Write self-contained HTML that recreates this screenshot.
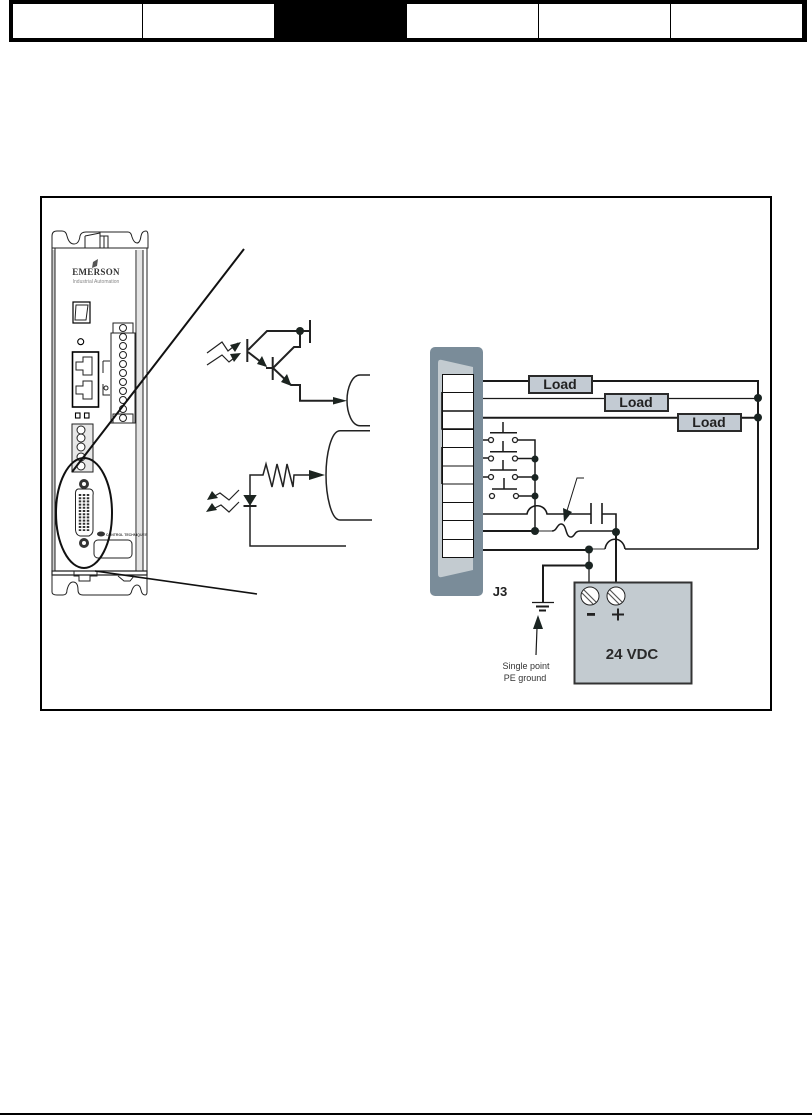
<!DOCTYPE html>
<html><head><meta charset="utf-8"><style>
html,body{margin:0;padding:0;background:#fff;width:812px;height:1115px;overflow:hidden}
svg{display:block}
text{font-family:"Liberation Sans",sans-serif}
</style></head><body>
<svg width="812" height="1115" viewBox="0 0 812 1115" xmlns="http://www.w3.org/2000/svg">
<rect width="812" height="1115" fill="#fff"/>
<!-- header -->
<rect x="9" y="0" width="798" height="42" fill="#000"/>
<rect x="13" y="4" width="129" height="34" fill="#fff"/>
<rect x="143" y="4" width="131" height="34" fill="#fff"/>
<rect x="407" y="4" width="131" height="34" fill="#fff"/>
<rect x="539" y="4" width="131" height="34" fill="#fff"/>
<rect x="671" y="4" width="131" height="34" fill="#fff"/>
<rect x="0" y="1113" width="812" height="2" fill="#000"/>
<!-- frame -->
<rect x="41" y="197" width="730" height="513" fill="#fff" stroke="#000" stroke-width="2"/>

<!-- device -->
<rect x="52" y="250" width="3" height="320" fill="#ccc"/>
<rect x="137" y="250" width="6" height="320" fill="#e4e4e4"/>
<g fill="none" stroke="#222" stroke-width="1">
<path d="M52 248V236Q52 231 57 231H62Q66 231 67 236Q69 244 74 244Q79 244 80 236Q81 232 86 232H128Q131 232 132 237Q134 243 137 243Q140 243 141 236Q142 231 146 231Q148 231 148 236V248Z"/>
<path d="M52 248V571M55 248V571M136 250V571M143 250V571M147 248V571"/>
<path d="M85 236L100 233V248M100 236H108V248M104 236V248M85 236V248"/>
<path d="M52 571H147V575H52Z" stroke-width="1.200"/>
<path d="M52 575V592Q52 595 57 595H63Q67 595 67 590Q69 582 73 582Q78 582 78 590Q78 595 83 595H128Q131 595 132 590Q134 585 137 585Q140 585 141 590Q142 595 145 595Q147 595 147 592V575"/>
<path d="M74 571H97V576H90V581H79V576H74Z" stroke="#222"/>
<path d="M118 576L124 581H130L134 576" stroke="#222"/>
<rect x="73" y="302" width="17" height="21" stroke="#000" stroke-width="1.200"/>
<path d="M76 305H88L86 320H75Z"/>
<circle cx="80.700" cy="341.700" r="3" stroke="#000" stroke-width="1.100"/>
<rect x="72.500" y="352" width="26" height="55" stroke="#000" stroke-width="1.600"/>
<path d="M76 362H83V357H92V375H83V370H76ZM76 386H83V381H92V399H83V394H76Z"/>
<rect x="111" y="333" width="24" height="90" fill="#fff"/>
<path d="M113 323H133V333H113ZM113 414H133V423H113Z" stroke="#222"/>
<path d="M103 361H110M103 361V373M103 384V395H110"/>
<circle cx="106" cy="388" r="2"/>
<g><circle cx="123" cy="328" r="3.500"/><circle cx="123" cy="337" r="3.500"/><circle cx="123" cy="346" r="3.500"/><circle cx="123" cy="355" r="3.500"/><circle cx="123" cy="364" r="3.500"/><circle cx="123" cy="373" r="3.500"/><circle cx="123" cy="382" r="3.500"/><circle cx="123" cy="391" r="3.500"/><circle cx="123" cy="400" r="3.500"/><circle cx="123" cy="409" r="3.500"/><circle cx="123" cy="418" r="3.500"/></g>
<rect x="75.500" y="413" width="4.500" height="5" stroke="#000" stroke-width="1.100"/>
<rect x="84.500" y="413" width="4.500" height="5" stroke="#000" stroke-width="1.100"/>
<rect x="72" y="424" width="21" height="48" fill="#e8e8e8" stroke="#222"/>
<circle cx="81" cy="430" r="4" fill="#fff"/><circle cx="81" cy="438" r="4" fill="#fff"/><circle cx="81" cy="447" r="4" fill="#fff"/><circle cx="81" cy="457" r="4" fill="#fff"/><circle cx="81" cy="466" r="4" fill="#fff"/>
<rect x="94" y="540" width="38" height="18" rx="4"/>
</g>
<text x="96" y="275" text-anchor="middle" font-size="9" font-weight="bold" fill="#333" style="font-family:'Liberation Serif',serif;letter-spacing:.3px">EMERSON</text>
<text x="96" y="283" text-anchor="middle" font-size="5" fill="#888">Industrial Automation</text>
<path d="M93 262L98 259L97 266L92 268Z" fill="#555"/>
<!-- d-sub -->
<path d="M78 489H90Q94 490 93 495V530Q93 534 89 536H80Q76 535 75.500 530V495Q75 490 78 489Z" fill="#fff" stroke="#222" stroke-width="1"/>
<g fill="#333"><circle cx="84" cy="484" r="5"/><circle cx="84" cy="543" r="5"/></g>
<g fill="#fff"><circle cx="84" cy="484" r="2"/><circle cx="84" cy="543" r="2"/></g>
<g stroke="#333" stroke-width="2.500" stroke-dasharray="2 1.200" fill="none"><path d="M80 494V531M84 494V531M88 494V531"/></g>
<ellipse cx="101" cy="534" rx="4" ry="2.500" fill="#333"/>
<text x="106" y="536" font-size="3.500" font-weight="bold" fill="#444">CONTROL TECHNIQUES</text>
<!-- ellipse and callouts -->
<ellipse cx="84" cy="513" rx="28" ry="55" fill="none" stroke="#111" stroke-width="2"/>
<path d="M244 249L72 472" fill="none" stroke="#111" stroke-width="2"/>
<path d="M95 571L257 594" fill="none" stroke="#111" stroke-width="1.600"/>

<!-- phototransistor -->
<g fill="none" stroke="#222" stroke-width="2">
<path d="M247.300 339V362M272.700 357V380M310 320V343" stroke-width="2"/>
<path d="M248 350L267 331H310M300 331V347H294L273 368M266 368H273"/>
<path d="M248 352L266 366M273 368L291 385H300V400.700H335" />
<path d="M370 375H360C352 375 347 388 347 400.500C347 413 352 425.700 360 425.700H370" stroke-width="1.500"/>
<path d="M370 430.700H340C331 430.700 326 455 326 475C326 495 331 520 340 520H372" stroke-width="1.500"/>
<path d="M309 475H294L293 487L287 464L283 487L277 464L272 487L266 464L263 475H250V546H346" stroke-width="1.500"/>
<path d="M207 353L222 342L228 351L238 343M207 365L222 355L229 362L238 355" stroke-width="1.200"/>
<path d="M239 490L229 500L220 493L211 498M239 502L229 512L221 505L211 510" stroke-width="1.200"/>
<path d="M243.500 506H256.500" stroke-width="2"/>
</g>
<g fill="#1c2420">
<path d="M241 342L230 345L235 352ZM241 353L230 354L234 362Z"/>
<path d="M207 500L212 491L218 498ZM206 512L212 503L217 510Z"/>
<path d="M243.300 495H256.700L250 505.700Z"/>
<path d="M309 470V480L325 475Z"/>
<path d="M333 397V404.500L347 400.700Z"/>
<path d="M267 367L257 364L262 356ZM291.500 386L281 382L287 374Z"/>
<circle cx="300" cy="331" r="4"/>
</g>

<!-- J3 connector -->
<rect x="430" y="347" width="53" height="249" rx="5" fill="#7a8c99"/>
<path d="M438 363Q438 359 442 360L473 367V570L442 577Q438 578 438 574Z" fill="#c3cbd0"/>
<rect x="442.500" y="374.500" width="31" height="183" fill="#fff" stroke="#111" stroke-width="1"/>
<g stroke="#111" stroke-width="0.900"><path d="M442 392.500H474M442 411H474M442 429.500H474M442 447.500H474M442 466H474M442 484H474M442 502.500H474M442 520.500H474M442 539.500H474"/></g>
<path d="M442 392V429H474M442 411H474M442 447V484" fill="none" stroke="#111" stroke-width="1.600"/>
<text x="500" y="596" text-anchor="middle" font-size="13" font-weight="bold" fill="#222">J3</text>

<!-- load wires -->
<g fill="none" stroke="#1a1a1a">
<path d="M483 381H758V549" stroke-width="2"/>
<path d="M758 549H625" stroke-width="1.500"/>
<path d="M483 398.500H758" stroke-width="1.300"/>
<path d="M483 417.700H758" stroke-width="2"/>
<!-- switches -->
<path d="M483 440H488M483 458H488M483 477H488" stroke-width="1.400"/>
<path d="M518 440H535V531M518 458.500H535M518 477H535M519 496H535" stroke-width="1.500"/>
<path d="M490 432.700H517M503 422V432.700M490 451.700H517M503 441V451.700M490 470H517M503 460V470M492 489H517M504 478V489" stroke-width="1.500"/>
<!-- hop wire -->
<path d="M483 514H527C529 503 545 503 547 514H591M591 503V524M602 503V524M602 514H616V532" stroke-width="1.600"/>
<!-- fuse wire -->
<path d="M483 531H535" stroke-width="2"/>
<path d="M535 531H552" stroke="#555" stroke-width="1.300"/>
<path d="M552 531C557 531 557 524 561 524C567 524 565 537 571 537C575 537 574 531 580 531H616" stroke-width="1.500"/>
<path d="M584 478H577L566 514" stroke-width="1"/>
<!-- power -->
<path d="M483 550H589" stroke-width="2"/>
<path d="M589 549H605" stroke="#777" stroke-width="1.500"/>
<path d="M605 549C607 536 623 536 625 549" stroke-width="1.600"/>
<path d="M616 532V590" stroke-width="2"/>
<path d="M589 549V590" stroke-width="1.300"/>
<path d="M589 565.500H543V602" stroke-width="2"/>
<path d="M532 602.500H554" stroke-width="1.300"/>
<path d="M536 606.500H549" stroke-width="2"/>
<path d="M539 610.500H546" stroke-width="2"/>
<path d="M536 655L537 628" stroke-width="1.200"/>
</g>
<g fill="#1a2422">
<circle cx="758" cy="398" r="4"/><circle cx="758" cy="417.500" r="4"/>
<circle cx="535" cy="459" r="3.500"/><circle cx="535" cy="477.500" r="3.500"/><circle cx="535" cy="496" r="3.500"/><circle cx="535" cy="531" r="4"/>
<circle cx="616" cy="532" r="4"/><circle cx="589" cy="549.500" r="4"/><circle cx="589" cy="565.500" r="4"/>
<path d="M563 508L572 512L564 522Z"/>
<path d="M533 629H543L538 615Z"/>
</g>
<g fill="#fff" stroke="#222" stroke-width="1.300">
<circle cx="491" cy="440" r="2.500"/><circle cx="515" cy="440" r="2.500"/>
<circle cx="491" cy="458.500" r="2.500"/><circle cx="515" cy="458.500" r="2.500"/>
<circle cx="491" cy="477" r="2.500"/><circle cx="515" cy="477" r="2.500"/>
<circle cx="492" cy="496" r="2.500"/><circle cx="516" cy="496" r="2.500"/>
</g>
<!-- load boxes -->
<g fill="#c3cbd3" stroke="#2a2a2a" stroke-width="2">
<rect x="529" y="376" width="63" height="17"/>
<rect x="605" y="394" width="63" height="17"/>
<rect x="678" y="414" width="63" height="17"/>
</g>
<g font-size="14" font-weight="bold" fill="#222" text-anchor="middle">
<text x="560" y="389">Load</text>
<text x="636" y="407">Load</text>
<text x="709" y="427">Load</text>
</g>
<!-- 24 VDC box -->
<rect x="574.500" y="582.500" width="117" height="101" fill="#c3cbd0" stroke="#333" stroke-width="2"/>
<g fill="#fff" stroke="#222" stroke-width="1"><circle cx="590" cy="596" r="9"/><circle cx="616" cy="596" r="9"/></g>
<path d="M584 590L596 602M582 593L593 604M610 590L622 602M608 593L619 604" stroke="#555" stroke-width="1.200" fill="none"/>
<rect x="587" y="613" width="8" height="2.800" fill="#222"/>
<path d="M612 614.500H624M618 608.500V620.500" stroke="#222" stroke-width="2" fill="none"/>
<text x="632" y="659" text-anchor="middle" font-size="15" font-weight="bold" fill="#2a2a2a">24 VDC</text>
<g font-size="9" fill="#333" text-anchor="middle">
<text x="526" y="669">Single point</text>
<text x="525" y="681">PE ground</text>
</g>
</svg>
</body></html>
